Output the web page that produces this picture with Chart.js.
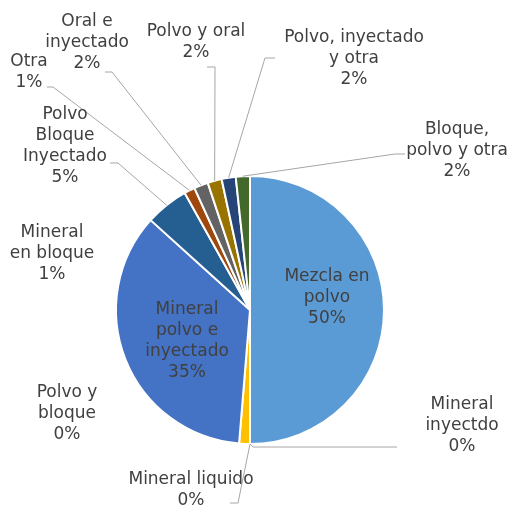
<!DOCTYPE html>
<html>
<head>
<meta charset="utf-8">
<script src="https://cdn.jsdelivr.net/npm/chart.js@4/dist/chart.umd.min.js"></script>
<style>
html,body{margin:0;padding:0;background:#fff;}
#wrap{width:510px;height:506px;position:relative;}
</style>
</head>
<body>
<div id="wrap"><canvas id="c" width="510" height="506"></canvas></div>
<script>
// ---- data ----
const categories = [
  "Mezcla en polvo",
  "Mineral inyectdo",
  "Mineral liquido",
  "Mineral en bloque",
  "Mineral polvo e inyectado",
  "Polvo y bloque",
  "Polvo Bloque Inyectado",
  "Otra",
  "Oral e inyectado",
  "Polvo y oral",
  "Polvo, inyectado y otra",
  "Bloque, polvo y otra"
];
const values = [50.0, 0, 0, 1.3, 35.4, 0, 5.2, 1.3, 1.7, 1.7, 1.7, 1.7];
const colors = ["#5B9BD5","#ED7D31","#A5A5A5","#FFC000","#4472C4","#70AD47",
                "#255E91","#9E480E","#636363","#997300","#264478","#43682B"];

// ---- label layout (text placement + leader routing), not data ----
const labelLines = [
  ["Mezcla en","polvo"],
  ["Mineral","inyectdo"],
  ["Mineral liquido"],
  ["Mineral","en bloque"],
  ["Mineral","polvo e","inyectado"],
  ["Polvo y","bloque"],
  ["Polvo","Bloque","Inyectado"],
  ["Otra"],
  ["Oral e","inyectado"],
  ["Polvo y oral"],
  ["Polvo, inyectado","y otra"],
  ["Bloque,","polvo y otra"]
];
const labelPos = [ // [centerX, firstLineCenterY]
  [327,277],[462,405],[191,480],[52,233],[187,310],[67,393],
  [65,115],[29,62],[87,22],[196,32],[354,38],[457,130]
];
const leaderPath = [ // fixed part of leader near the label; null = no leader
  null,
  [[397,447],[253,447]],
  [[230,503],[238,503]],
  null, null, null,
  [[110,163],[118,163]],
  [[47,87],[53,87]],
  [[105,72],[112,72]],
  [[207,67],[215,67]],
  [[275,58],[265,58]],
  [[405,154],[395,154]]
];
const LINE_H = 21;

const labelPlugin = {
  id: 'pieLabels',
  afterDraw(chart) {
    const ctx = chart.ctx;
    const meta = chart.getDatasetMeta(0);
    const total = values.reduce((a,b)=>a+b,0);
    ctx.save();
    // leaders
    ctx.strokeStyle = '#A6A6A6';
    ctx.lineWidth = 1;
    meta.data.forEach((arc, i) => {
      const path = leaderPath[i];
      if (!path) return;
      const mid = (arc.startAngle + arc.endAngle) / 2;
      const px = arc.x + Math.cos(mid) * arc.outerRadius;
      const py = arc.y + Math.sin(mid) * arc.outerRadius;
      ctx.beginPath();
      ctx.moveTo(path[0][0], path[0][1]);
      for (let k = 1; k < path.length; k++) ctx.lineTo(path[k][0], path[k][1]);
      ctx.lineTo(px, py);
      ctx.stroke();
    });
    // text
    ctx.fillStyle = '#404040';
    ctx.font = '17px "DejaVu Sans", Verdana, sans-serif';
    ctx.textAlign = 'center';
    ctx.textBaseline = 'middle';
    categories.forEach((c, i) => {
      const pct = Math.round(values[i] / total * 100) + '%';
      const lines = labelLines[i].concat([pct]);
      const [x, y] = labelPos[i];
      lines.forEach((t, k) => ctx.fillText(t, x, y + k * LINE_H));
    });
    ctx.restore();
  }
};

new Chart(document.getElementById('c'), {
  type: 'pie',
  data: {
    labels: categories,
    datasets: [{
      data: values,
      backgroundColor: colors,
      borderColor: '#FFFFFF',
      borderWidth: 2
    }]
  },
  options: {
    responsive: false,
    animation: false,
    layout: { padding: { left: 115, right: 125, top: 175, bottom: 61 } },
    plugins: { legend: { display: false }, tooltip: { enabled: false } }
  },
  plugins: [labelPlugin]
});
</script>
</body>
</html>
